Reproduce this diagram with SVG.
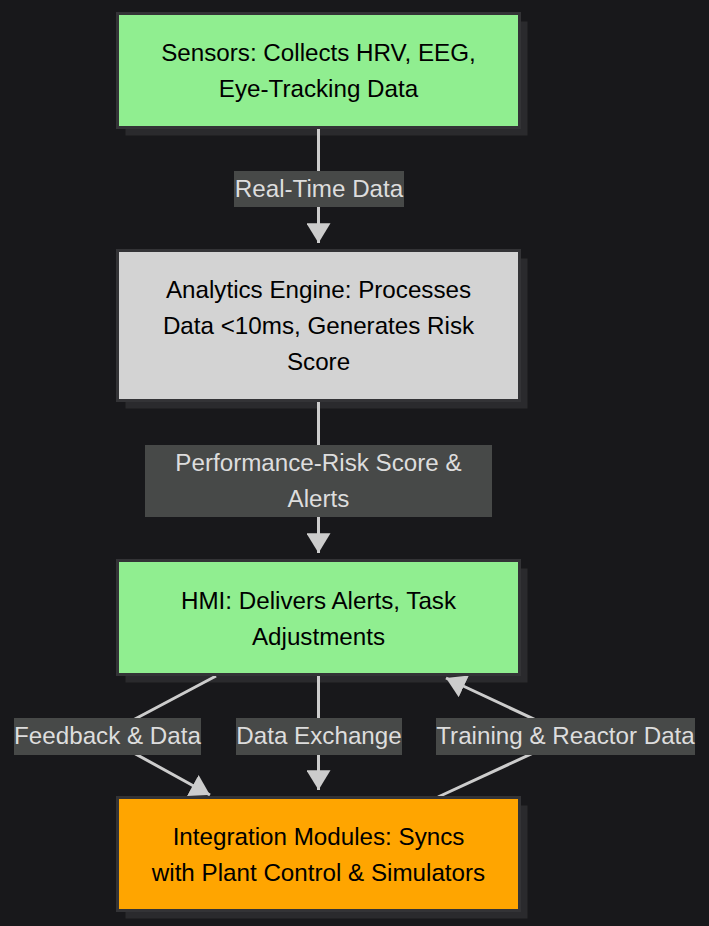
<svg xmlns="http://www.w3.org/2000/svg" width="709" height="926" viewBox="0 0 709 926">
<style>
.bg{fill:#18181b}
.shadow{fill:#2a2a2d}
.node{stroke:#333336;stroke-width:3}
.ntext{font-family:"Liberation Sans",Arial,sans-serif;font-size:24.2px;fill:#000;text-anchor:middle}
.edge{fill:none;stroke:#cccccc;stroke-width:3}
.lbox{fill:#474948}
.ltext{font-family:"Liberation Sans",Arial,sans-serif;font-size:24.2px;fill:#dddddd;text-anchor:middle}
</style>
<defs>
<marker id="arrow" markerUnits="userSpaceOnUse" markerWidth="20" markerHeight="24" refX="18" refY="11" orient="auto" viewBox="0 0 18 22">
<path d="M0,0 L18,11 L0,22 z" fill="#cccccc"/>
</marker>
</defs>
<rect class="bg" x="0" y="0" width="709" height="926"/>
<g id="shadows">
<rect class="shadow" x="125.5" y="21.5" width="402" height="114"/>
<rect class="shadow" x="125.5" y="258.5" width="402" height="150"/>
<rect class="shadow" x="125.5" y="568.5" width="402" height="114"/>
<rect class="shadow" x="125.5" y="805.5" width="402" height="113"/>
</g>
<g id="connectors">
<path class="edge" d="M318.5,129 L318.5,243" marker-end="url(#arrow)"/>
<path class="edge" d="M318.5,402 L318.5,553" marker-end="url(#arrow)"/>
<path class="edge" d="M216,676 L103,736 L210,795" marker-end="url(#arrow)"/>
<path class="edge" d="M318.5,676 L318.5,790" marker-end="url(#arrow)"/>
<path class="edge" d="M438,797 L570,736 L446,678" marker-end="url(#arrow)"/>
</g>
<g id="edge-labels">
<g id="label-realtime"><rect class="lbox" x="234" y="171" width="170" height="36"/><text class="ltext" x="319" y="197">Real-Time Data</text></g>
<g id="label-perf"><rect class="lbox" x="145" y="445" width="347" height="72"/><text class="ltext" x="318.5" y="471">Performance-Risk Score &amp;</text><text class="ltext" x="318.5" y="507">Alerts</text></g>
<g id="label-feedback"><rect class="lbox" x="14" y="718" width="187" height="37"/><text class="ltext" x="107.5" y="743.5">Feedback &amp; Data</text></g>
<g id="label-exchange"><rect class="lbox" x="236" y="718" width="166" height="37"/><text class="ltext" x="319" y="743.5">Data Exchange</text></g>
<g id="label-training"><rect class="lbox" x="436" y="718" width="259" height="37"/><text class="ltext" x="565.5" y="743.5">Training &amp; Reactor Data</text></g>
</g>
<g id="node-sensors">
<rect class="node" x="117.5" y="13.5" width="402" height="114" fill="#90ee90"/>
<text class="ntext" x="318.5" y="61">Sensors: Collects HRV, EEG,</text>
<text class="ntext" x="318.5" y="97">Eye-Tracking Data</text>
</g>
<g id="node-analytics">
<rect class="node" x="117.5" y="250.5" width="402" height="150" fill="#d3d3d3"/>
<text class="ntext" x="318.5" y="298">Analytics Engine: Processes</text>
<text class="ntext" x="318.5" y="334">Data &lt;10ms, Generates Risk</text>
<text class="ntext" x="318.5" y="369.5">Score</text>
</g>
<g id="node-hmi">
<rect class="node" x="117.5" y="560.5" width="402" height="114" fill="#90ee90"/>
<text class="ntext" x="318.5" y="608.5">HMI: Delivers Alerts, Task</text>
<text class="ntext" x="318.5" y="644.5">Adjustments</text>
</g>
<g id="node-integration">
<rect class="node" x="117.5" y="797.5" width="402" height="113" fill="#ffa500"/>
<text class="ntext" x="318.5" y="845">Integration Modules: Syncs</text>
<text class="ntext" x="318.5" y="881">with Plant Control &amp; Simulators</text>
</g>
</svg>
